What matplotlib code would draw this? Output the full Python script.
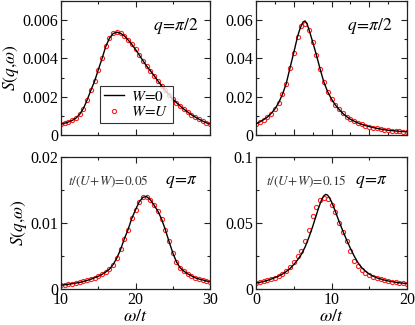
import numpy as np
import matplotlib
matplotlib.use("Agg")
import matplotlib.pyplot as plt
from matplotlib.ticker import MultipleLocator

plt.rcParams['font.family'] = ['serif']
plt.rcParams['font.serif'] = ['Liberation Serif', 'DejaVu Serif']
plt.rcParams['mathtext.fontset'] = 'stix'

# ---------------- data ----------------
# top-left: q=pi/2, t/(U+W)=0.05
omega_A = np.arange(10, 30.01, 0.5)
A_line = [0.00056, 0.00062, 0.00068, 0.00076, 0.00088, 0.00108, 0.00138, 0.00182, 0.00233, 0.00280,
          0.00340, 0.00398, 0.00462, 0.00505, 0.00530, 0.00537, 0.00531, 0.00518, 0.00497, 0.00474,
          0.00447, 0.00418, 0.00388, 0.00360, 0.00335, 0.00310, 0.00283, 0.00258, 0.00233, 0.00210,
          0.00188, 0.00169, 0.00151, 0.00135, 0.00120, 0.00106, 0.00094, 0.00083, 0.00073, 0.00064,
          0.00057]
A_mk = [0.00057, 0.00062, 0.00068, 0.00077, 0.00089, 0.00108, 0.00138, 0.00184, 0.00234, 0.00281,
        0.00342, 0.00400, 0.00463, 0.00506, 0.00531, 0.00537, 0.00532, 0.00518, 0.00497, 0.00474,
        0.00447, 0.00418, 0.00388, 0.00360, 0.00335, 0.00310, 0.00283, 0.00258, 0.00233, 0.00210,
        0.00188, 0.00169, 0.00151, 0.00135, 0.00120, 0.00106, 0.00094, 0.00083, 0.00073, 0.00064,
        0.00057]

# top-right: q=pi/2, t/(U+W)=0.15
omega_B_line = [0, 0.5, 1, 1.5, 2, 2.5, 3, 3.5, 4, 4.5, 5, 5.5, 5.75, 6, 6.25, 6.5, 6.75, 7,
                7.5, 8, 8.5, 9, 9.5, 10, 10.5, 11, 11.5, 12, 12.5, 13, 13.5, 14, 14.5, 15,
                15.5, 16, 16.5, 17, 17.5, 18, 18.5, 19, 19.5, 20]
B_line = [0.0058, 0.0068, 0.0080, 0.0093, 0.0112, 0.0136, 0.0168, 0.0212, 0.0268, 0.0350, 0.0430, 0.0514,
          0.0546, 0.0572, 0.0591, 0.0596, 0.0581, 0.0553,
          0.0487, 0.0418, 0.0343, 0.0275, 0.0225, 0.0188, 0.0157, 0.0134, 0.0113, 0.0096, 0.0082, 0.0072,
          0.0063, 0.0056, 0.0049, 0.0044, 0.0039, 0.0035, 0.0031, 0.0028, 0.0025, 0.0023, 0.0021, 0.0019,
          0.0018, 0.0017]
omega_B = np.arange(0, 20.01, 0.5)
B_mk = [0.0058, 0.0068, 0.0080, 0.0093, 0.0112, 0.0136, 0.0168, 0.0212, 0.0268, 0.0350, 0.0428, 0.0512,
        0.0570, 0.0582, 0.0550, 0.0486, 0.0418, 0.0343, 0.0275, 0.0225, 0.0188, 0.0157, 0.0134, 0.0113,
        0.0096, 0.0082, 0.0072, 0.0063, 0.0056, 0.0049, 0.0044, 0.0039, 0.0035, 0.0031, 0.0028, 0.0025,
        0.0023, 0.0021, 0.0019, 0.0018, 0.0017]

# bottom-left: q=pi, t/(U+W)=0.05
omega_C = np.arange(10, 30.01, 0.5)
C_line = [0.00058, 0.00064, 0.00072, 0.00080, 0.00090, 0.00100, 0.00115, 0.00130, 0.00148, 0.00170,
          0.00192, 0.00220, 0.00258, 0.00300, 0.00370, 0.00470, 0.00600, 0.00760, 0.00900, 0.01070,
          0.01200, 0.01320, 0.01390, 0.01400, 0.01350, 0.01270, 0.01180, 0.01060, 0.00900, 0.00720,
          0.00550, 0.00410, 0.00320, 0.00270, 0.00230, 0.00200, 0.00170, 0.00152, 0.00138, 0.00122,
          0.00110]
C_mk = [0.00058, 0.00064, 0.00072, 0.00080, 0.00090, 0.00100, 0.00115, 0.00130, 0.00148, 0.00170,
        0.00192, 0.00220, 0.00258, 0.00300, 0.00370, 0.00470, 0.00600, 0.00760, 0.00900, 0.01070,
        0.01200, 0.01320, 0.01390, 0.01400, 0.01350, 0.01270, 0.01180, 0.01060, 0.00900, 0.00720,
        0.00550, 0.00410, 0.00320, 0.00270, 0.00230, 0.00200, 0.00170, 0.00152, 0.00138, 0.00122,
        0.00110]

# bottom-right: q=pi, t/(U+W)=0.15
omega_D_line = [0, 0.5, 1, 1.5, 2, 2.5, 3, 3.5, 4, 4.5, 5, 5.5, 6, 6.5, 7, 7.5, 8,
                8.25, 8.5, 8.75, 9, 9.25, 9.5, 9.75, 10, 10.25, 10.5,
                11, 11.5, 12, 12.5, 13, 13.5, 14, 14.5, 15, 15.5, 16, 16.5, 17, 17.5, 18, 18.5, 19, 19.5, 20]
D_line = [0.0045, 0.0050, 0.0057, 0.0065, 0.0075, 0.0086, 0.0098, 0.0113, 0.0132, 0.0155, 0.0185, 0.0220,
          0.0262, 0.0318, 0.0390, 0.0472, 0.0562,
          0.0607, 0.0648, 0.0683, 0.0707, 0.0717, 0.0710, 0.0690, 0.0660, 0.0626, 0.0590,
          0.0512, 0.0440, 0.0372, 0.0308, 0.0250, 0.0200, 0.0162, 0.0135, 0.0113, 0.0097, 0.0085, 0.0076,
          0.0068, 0.0061, 0.0056, 0.0051, 0.0047, 0.0044, 0.0041]
omega_D = np.arange(0, 20.01, 0.5)
D_mk = [0.0046, 0.0051, 0.0057, 0.0066, 0.0076, 0.0087, 0.0098, 0.0114, 0.0136, 0.0165, 0.0205, 0.0248,
        0.0290, 0.0365, 0.0447, 0.0550, 0.0619, 0.0676, 0.0692, 0.0682, 0.0640, 0.0585, 0.0500, 0.0431,
        0.0362, 0.0285, 0.0215, 0.0175, 0.0146, 0.0122, 0.0105, 0.0093, 0.0083, 0.0075, 0.0067, 0.0061,
        0.0055, 0.0050, 0.0046, 0.0043, 0.0041]

legend_labels = [r'$W\!=\!0$', r'$W\!=\!U$']
q_labels = [r'$q\!=\!\pi/2$', r'$q\!=\!\pi/2$', r'$q\!=\!\pi$', r'$q\!=\!\pi$']
t_labels = [None, None, r'$t/(U\!+\!W)\!=\!0.05$', r'$t/(U\!+\!W)\!=\!0.15$']

# ---------------- figure ----------------
W, H = 415, 325
fig = plt.figure(figsize=(W / 100, H / 100), dpi=100)

def ax_at(l, r, t, b):
    return fig.add_axes([l / W, 1 - b / H, (r - l) / W, (b - t) / H])

axA = ax_at(61, 210, 1, 135)
axB = ax_at(256, 407, 1, 135)
axC = ax_at(61, 210, 157, 289)
axD = ax_at(256, 407, 157, 289)

panels = [
    (axA, omega_A, A_line, omega_A, A_mk, (10, 30), (0, 0.007), 10, 5, 0.002, 0.001),
    (axB, omega_B_line, B_line, omega_B, B_mk, (0, 20), (0, 0.07), 5, 2.5, 0.02, 0.01),
    (axC, omega_C, C_line, omega_C, C_mk, (10, 30), (0, 0.02), 10, 5, 0.01, 0.005),
    (axD, omega_D_line, D_line, omega_D, D_mk, (0, 20), (0, 0.1), 10, 5, 0.05, 0.025),
]

spine_col = '#222222'
q_xpos = [0.92, 0.9, 0.92, 0.875]
t_xpos = [None, None, 0.05, 0.065]
for i, (ax, wl, yl, wm, ym, xlim, ylim, xmaj, xmin, ymaj, ymin) in enumerate(panels):
    ax.plot(wl, yl, color='black', lw=1.0, zorder=3, label=legend_labels[0])
    ax.plot(wm, ym, ls='none', marker='o', ms=3.0, mfc='none', mec='#ff2020', mew=0.8,
            zorder=2, label=legend_labels[1])
    ax.set_xlim(*xlim)
    ax.set_ylim(*ylim)
    ax.xaxis.set_major_locator(MultipleLocator(xmaj))
    ax.xaxis.set_minor_locator(MultipleLocator(xmin))
    ax.yaxis.set_major_locator(MultipleLocator(ymaj))
    ax.yaxis.set_minor_locator(MultipleLocator(ymin))
    ax.tick_params(which='both', direction='in', top=True, right=True, colors=spine_col,
                   labelcolor='black', labelsize=11.5, width=0.8, pad=2)
    ax.tick_params(which='major', length=4.5)
    ax.tick_params(which='minor', length=2.5)
    for s in ax.spines.values():
        s.set_linewidth(0.9)
        s.set_color(spine_col)
    ax.text(q_xpos[i], 0.81, q_labels[i], transform=ax.transAxes, ha='right', va='center',
            fontsize=12.5)
    if t_labels[i]:
        ax.text(t_xpos[i], 0.815, t_labels[i], transform=ax.transAxes,
                ha='left', va='center', fontsize=9.5, color='#333333')
    if i < 2:
        ax.tick_params(labelbottom=False)
    else:
        ax.set_xlabel(r'$\omega/t$', fontsize=13, labelpad=0)
    ax.yaxis.set_major_formatter(matplotlib.ticker.FuncFormatter(
        lambda v, p: '0' if abs(v) < 1e-12 else ('%g' % v)))

axA.set_ylabel(r'$S(q,\!\omega)$', fontsize=12.5, labelpad=1)
axC.set_ylabel(r'$S(q,\!\omega)$', fontsize=12.5, labelpad=1)

leg = axA.legend(loc='lower left', bbox_to_anchor=(0.262, 0.09), fontsize=11, frameon=True,
                 fancybox=False, edgecolor='black', borderpad=0.25, handlelength=1.3,
                 handletextpad=0.5, labelspacing=0.1, borderaxespad=0, numpoints=1)
leg.get_frame().set_linewidth(0.8)

fig.savefig('out.png', dpi=100)
